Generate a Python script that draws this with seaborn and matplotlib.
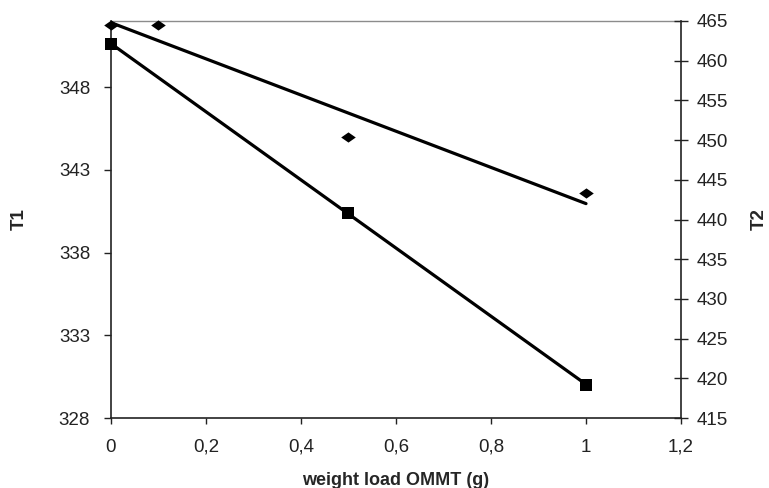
import numpy as np
import pandas as pd
import matplotlib
matplotlib.use("Agg")
import matplotlib.pyplot as plt
from matplotlib.ticker import FuncFormatter
import seaborn as sns

# data
load_t1 = [0.0, 0.5, 1.0]
t1_values = [350.6, 340.4, 330.0]

load_t2 = [0.0, 0.1, 0.5, 1.0]
t2_values = [464.5, 464.5, 450.4, 443.3]

x_ticks = [0, 0.2, 0.4, 0.6, 0.8, 1.0, 1.2]
t1_ticks = [328, 333, 338, 343, 348]
t2_ticks = [415, 420, 425, 430, 435, 440, 445, 450, 455, 460, 465]

sns.set_style("white")
plt.rcParams['font.family'] = ['Liberation Sans', 'DejaVu Sans']

df1 = pd.DataFrame({'load': load_t1, 'T1': t1_values})
df2 = pd.DataFrame({'load': load_t2, 'T2': t2_values})

fig = plt.figure(figsize=(7.69, 4.88), dpi=100)
ax = fig.add_axes([0.1443, 0.1434, 0.8856 - 0.1443, 0.957 - 0.1434])
ax2 = ax.twinx()

diamond = [(-1, 0), (0, 0.7), (1, 0), (0, -0.7), (-1, 0)]

sns.regplot(data=df1, x='load', y='T1', ax=ax, ci=None, truncate=True,
            marker='s', color='black',
            scatter_kws={'s': 80, 'alpha': 1, 'linewidths': 0},
            line_kws={'lw': 2.3, 'color': 'black'})
sns.regplot(data=df2, x='load', y='T2', ax=ax2, ci=None, truncate=True,
            marker=diamond, color='black',
            scatter_kws={'s': 110, 'alpha': 1, 'linewidths': 0},
            line_kws={'lw': 2.3, 'color': 'black'})

for a in (ax, ax2):
    for c in a.collections:
        c.set_clip_on(False)
        c.set_zorder(5)

ax.set_xlim(0, 1.2)
ax.set_ylim(328, 352)
ax2.set_ylim(415, 465)
ax.set_xticks(x_ticks)
ax.set_yticks(t1_ticks)
ax2.set_yticks(t2_ticks)

comma = FuncFormatter(lambda v, p: f"{v:g}".replace('.', ','))
ax.xaxis.set_major_formatter(comma)

for a in (ax, ax2):
    a.grid(False)
    for s in a.spines.values():
        s.set_visible(False)

ax.spines['left'].set_visible(True)
ax.spines['bottom'].set_visible(True)
ax.spines['top'].set_visible(True)
ax.spines['left'].set_color('#222222')
ax.spines['bottom'].set_color('#222222')
ax.spines['top'].set_color('#8c8c8c')
ax.spines['left'].set_linewidth(1.2)
ax.spines['bottom'].set_linewidth(1.2)
ax.spines['top'].set_linewidth(1.0)
ax2.spines['right'].set_visible(True)
ax2.spines['right'].set_color('#222222')
ax2.spines['right'].set_linewidth(1.2)

ax.tick_params(axis='y', left=True, direction='out', length=5, width=1,
               labelsize=13.5, pad=10, colors='#222222')
ax.tick_params(axis='x', bottom=True, direction='out', length=4, width=1,
               labelsize=13.5, pad=11, colors='#222222')
ax2.tick_params(axis='y', right=True, direction='inout', length=10, width=1,
                labelsize=13.5, pad=6, colors='#222222')

ax.set_xlabel('weight load OMMT (g)', fontsize=13, fontweight='bold')
ax.set_ylabel('T1', fontsize=13.5, fontweight='bold')
ax2.set_ylabel('T2', fontsize=13.5, fontweight='bold')
ax.xaxis.set_label_coords(0.5, -0.137)
ax.yaxis.set_label_coords(-0.146, 0.5)
ax2.yaxis.set_label_coords(1.122, 0.5)

fig.savefig('out.png', dpi=100)
